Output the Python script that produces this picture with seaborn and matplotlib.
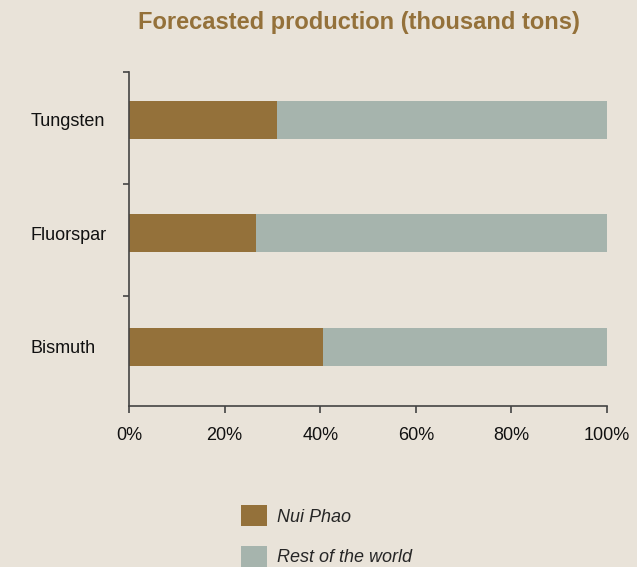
import pandas as pd
import seaborn as sns
import matplotlib.pyplot as plt
from matplotlib.patches import Patch

minerals = ['Tungsten', 'Fluorspar', 'Bismuth']
nui_phao = [31, 26.5, 40.5]
rest_of_world = [69, 73.5, 59.5]
x_ticks = [0, 20, 40, 60, 80, 100]

df = pd.DataFrame({'mineral': minerals, 'nui_phao': nui_phao,
                   'total': [a + b for a, b in zip(nui_phao, rest_of_world)]})

bg = '#E9E3D9'
brown = '#94713A'
grey = '#A6B4AD'

sns.set_theme(style='white')
plt.rcParams['font.family'] = ['Liberation Sans', 'DejaVu Sans']

fig = plt.figure(figsize=(6.37, 5.67), dpi=100, facecolor=bg)
ax = fig.add_axes([129 / 637, 1 - 406 / 567, 478 / 637, 334 / 567])
ax.set_facecolor(bg)

# stacked bars: full width in grey, Nui Phao share drawn on top
sns.barplot(data=df, x='total', y='mineral', color=grey, width=0.335, saturation=1,
            linewidth=0, ax=ax, orient='h')
sns.barplot(data=df, x='nui_phao', y='mineral', color=brown, width=0.335, saturation=1,
            linewidth=0, ax=ax, orient='h')

ax.set_xlim(0, 100)
ax.set_ylim(2.52, -0.42)
ax.set_xticks(x_ticks)
ax.set_xticklabels([f'{t}%' for t in x_ticks], fontsize=13, color='#111111')
ax.set_xlabel('')
ax.set_ylabel('')
ax.tick_params(axis='x', bottom=True, direction='out', length=5, width=1.2,
               color='#444444', pad=10)
ax.tick_params(axis='y', which='major', left=False, length=0, pad=71,
               labelsize=13, labelcolor='#111111')
for lbl in ax.get_yticklabels():
    lbl.set_horizontalalignment('left')
# small ticks between the category bands
ax.set_yticks([-0.42, 0.57, 1.55], minor=True)
ax.tick_params(axis='y', which='minor', left=True, direction='out', length=4,
               width=1.2, color='#444444')

for side in ['top', 'right']:
    ax.spines[side].set_visible(False)
for side in ['left', 'bottom']:
    ax.spines[side].set_color('#444444')
    ax.spines[side].set_linewidth(1.2)

fig.text(359 / 637, 1 - 23 / 567, 'Forecasted production (thousand tons)',
         ha='center', va='center', fontsize=17, fontweight='bold', color=brown)

handles = [Patch(facecolor=brown, edgecolor='none', label='Nui Phao'),
           Patch(facecolor=grey, edgecolor='none', label='Rest of the world')]
fig.legend(handles=handles, loc='upper left', bbox_to_anchor=(225 / 637, 1 - 489 / 567),
           frameon=False, prop={'style': 'italic', 'size': 13},
           handlelength=1.4, handleheight=1.4, labelspacing=1.1, handletextpad=0.6)

plt.savefig('out.png', dpi=100, facecolor=bg)
